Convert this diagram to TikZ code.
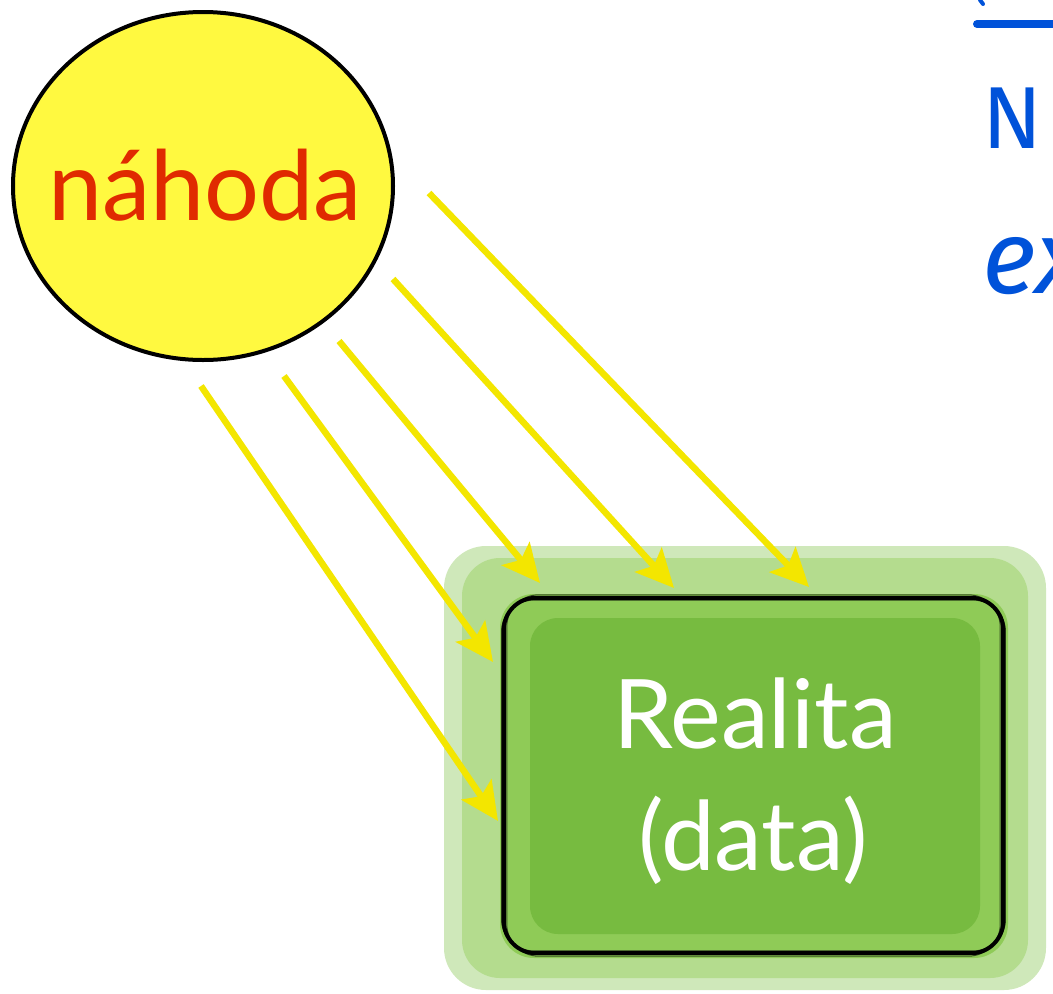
\documentclass[tikz,border=0pt]{standalone}
\usepackage{fontspec}
\setmainfont{Lato}
\newfontfamily\handfont{Fira Sans}
\usetikzlibrary{arrows.meta,shapes.geometric}

\definecolor{sunyellow}{HTML}{FFF940}
\definecolor{chancered}{HTML}{E02A00}
\definecolor{rayyellow}{HTML}{F3E600}
\definecolor{glowA}{HTML}{CFE8BA}
\definecolor{glowB}{HTML}{B4DC8E}
\definecolor{bandgreen}{HTML}{8FCB57}
\definecolor{boxgreen}{HTML}{77BB40}
\definecolor{inkblue}{HTML}{0052D9}

\tikzset{
  ray/.style={draw=rayyellow, line width=6.5pt,
    -{Stealth[length=38pt,width=36pt,inset=8pt]}},
  bigtext/.style={font=\fontsize{96}{96}\selectfont, text=white},
  brush/.style={draw=black, rounded corners=32pt},
  ink/.style={text=inkblue, inner sep=0pt, anchor=base west}
}

\begin{document}
\begin{tikzpicture}[x=1pt,y=-1pt]
\useasboundingbox (0,0) rectangle (1053,994);
\begin{scope}
\clip (0,0) rectangle (1053,994);

% handwritten heading on the right
\draw[inkblue, line width=8pt, line cap=round] (977,24) -- (1060,24);
\draw[inkblue, line width=4pt, line cap=round] (980,0) -- (983,4);
\node[ink, font=\handfont\fontsize{88}{88}\selectfont] (hN) at (982,148) {N};
\node[ink, font=\handfont\itshape\fontsize{104}{104}\selectfont] (hex) at (982,293) {ex};

% the chance circle
\node[ellipse, draw=black, line width=4pt, fill=sunyellow,
      minimum width=380pt, minimum height=348pt, inner sep=0pt] (nahoda) at (203,186) {};
\node[text=chancered, anchor=base,
      font=\fontsize{97}{97}\selectfont] (nahodatext) at (205,220) {náhoda};

% the reality box with its soft green halo
\node[rectangle, minimum width=499pt, minimum height=355pt, inner sep=0pt] (realita) at (753.5,775.5) {};
\fill[glowA, rounded corners=42pt] (444,546) rectangle (1046,990);
\fill[glowB, rounded corners=38pt] (462,558) rectangle (1028,978);
\fill[bandgreen, rounded corners=34pt] (500,594) rectangle (1008,958);
\fill[boxgreen, rounded corners=28pt] (530,618) rectangle (980,934);
\draw[brush, line width=4pt] (realita.north west) rectangle (realita.south east);
\draw[brush, line width=1.5pt, opacity=.7] ([xshift=-2pt,yshift=-2pt]realita.north west) rectangle ([xshift=2pt,yshift=2pt]realita.south east);
\draw[brush, line width=1pt, opacity=.6] ([xshift=3pt,yshift=3pt]realita.north west) rectangle ([xshift=-3pt,yshift=-3pt]realita.south east);

\node[bigtext, anchor=base] (realitatext) at (755,748) {Realita};
\node[bigtext, anchor=base] (datatext) at (753,870) {(data)};

% rays of chance falling onto the data
\coordinate (s1) at (429,193); \coordinate (t1) at (809,587);
\coordinate (s2) at (393,279); \coordinate (t2) at (674,588);
\coordinate (s3) at (339,341); \coordinate (t3) at (540,583);
\coordinate (s4) at (284,376); \coordinate (t4) at (493,662);
\coordinate (s5) at (201,386); \coordinate (t5) at (498,821);
\foreach \i in {1,...,5} { \draw[ray] (s\i) -- (t\i); }
\end{scope}
\end{tikzpicture}
\end{document}
